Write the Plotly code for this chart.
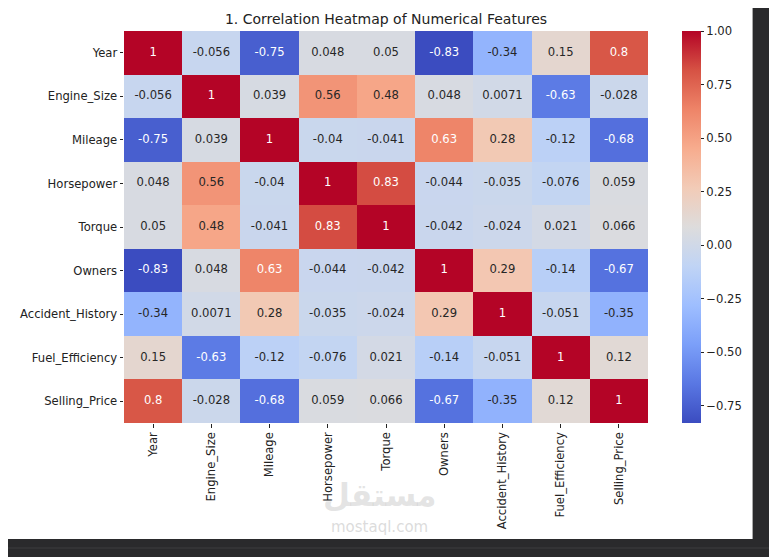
import plotly.graph_objects as go

# feature names (same order on both axes)
features = ["Year", "Engine_Size", "Mileage", "Horsepower", "Torque",
            "Owners", "Accident_History", "Fuel_Efficiency", "Selling_Price"]

# correlation matrix, one row per feature
corr_year = [1, -0.056, -0.75, 0.048, 0.05, -0.83, -0.34, 0.15, 0.8]
corr_engine = [-0.056, 1, 0.039, 0.56, 0.48, 0.048, 0.0071, -0.63, -0.028]
corr_mileage = [-0.75, 0.039, 1, -0.04, -0.041, 0.63, 0.28, -0.12, -0.68]
corr_hp = [0.048, 0.56, -0.04, 1, 0.83, -0.044, -0.035, -0.076, 0.059]
corr_torque = [0.05, 0.48, -0.041, 0.83, 1, -0.042, -0.024, 0.021, 0.066]
corr_owners = [-0.83, 0.048, 0.63, -0.044, -0.042, 1, 0.29, -0.14, -0.67]
corr_accident = [-0.34, 0.0071, 0.28, -0.035, -0.024, 0.29, 1, -0.051, -0.35]
corr_fuel = [0.15, -0.63, -0.12, -0.076, 0.021, -0.14, -0.051, 1, 0.12]
corr_price = [0.8, -0.028, -0.68, 0.059, 0.066, -0.67, -0.35, 0.12, 1]

cbar_ticks = [-0.75, -0.5, -0.25, 0.0, 0.25, 0.5, 0.75, 1.0]

z = [corr_year, corr_engine, corr_mileage, corr_hp, corr_torque,
     corr_owners, corr_accident, corr_fuel, corr_price]

# matplotlib "coolwarm"
coolwarm = [
    [0.0, "#3b4cc0"], [0.1, "#5977e3"], [0.2, "#7b9ff9"], [0.3, "#9ebeff"],
    [0.4, "#c0d4f5"], [0.5, "#dddcdc"], [0.6, "#f2cbb7"], [0.7, "#f7ac8e"],
    [0.8, "#ee8468"], [0.9, "#d65244"], [1.0, "#b40426"],
]

zmin = min(min(r) for r in z)
zmax = max(max(r) for r in z)

# annotation text (seaborn uses .2g), white on the strong cells
tx, ty, tt, tc = [], [], [], []
for i, row in enumerate(z):
    for j, v in enumerate(row):
        tx.append(features[j])
        ty.append(features[i])
        tt.append(format(v, ".2g"))
        tc.append("white" if abs(v) > 0.6 else "#262626")

# page has an 8px body margin; figure runs past the window on right/bottom
OFF = 8
W, H = 777, 557
L, T = 122 - OFF, 31 - OFF
R, B = W - (648 - OFF), H - (423 - OFF)
pw, ph = W - L - R, H - T - B


def px_x(x):
    # window pixel -> paper x
    return (x - OFF - L) / pw


def px_y(y):
    # window pixel -> paper y
    return (H - B - (y - OFF)) / ph


fs = 11.6

fig = go.Figure()
fig.add_trace(go.Heatmap(
    z=z, x=features, y=features,
    colorscale=coolwarm, zmin=zmin, zmax=zmax,
    hoverinfo="skip",
    colorbar=dict(
        x=px_x(682), xanchor="left", xpad=0, ypad=0,
        y=0.5, yanchor="middle", len=1, lenmode="fraction",
        thickness=19, outlinewidth=0,
        ticks="outside", ticklen=3.5, tickcolor="#222",
        tickvals=cbar_ticks,
        ticktext=[("\u2212" if t < 0 else "") + "%.2f" % abs(t) for t in cbar_ticks],
        tickfont=dict(size=fs, color="#222"),
    ),
))
fig.add_trace(go.Scatter(
    x=tx, y=ty, text=tt, mode="text",
    textfont=dict(size=fs, color=tc, family="DejaVu Sans"),
    hoverinfo="skip", showlegend=False,
))

fig.update_layout(
    width=W, height=H,
    margin=dict(l=L, r=R, t=T, b=B),
    paper_bgcolor="#2a2a2c",
    plot_bgcolor="white",
    font=dict(family="DejaVu Sans", size=fs, color="#222"),
    title=dict(text="1. Correlation Heatmap of Numerical Features",
               x=0.5, xref="paper", xanchor="center",
               y=1 - (19 - OFF) / H, yref="container", yanchor="middle",
               font=dict(size=14, color="#222")),
    showlegend=False,
    shapes=[
        dict(type="rect", xref="paper", yref="paper", layer="below",
             x0=px_x(0), x1=px_x(753), y0=px_y(539), y1=px_y(0),
             fillcolor="white", line=dict(width=0)),
        dict(type="line", xref="paper", yref="paper", layer="below",
             x0=px_x(0), x1=px_x(800), y0=px_y(548), y1=px_y(548),
             line=dict(color="#3c3c3e", width=1)),
    ],
    annotations=[
        dict(text="<b>مستقل</b>", xref="paper", yref="paper",
             x=px_x(378), y=px_y(515), showarrow=False,
             font=dict(size=31, color="rgba(190,190,190,0.42)")),
        dict(text="mostaql.com", xref="paper", yref="paper",
             x=px_x(378), y=px_y(538), showarrow=False,
             font=dict(size=15, color="rgba(190,190,190,0.55)")),
    ],
)
fig.update_xaxes(type="category", tickangle=-90, ticks="outside", ticklen=3.5,
                 tickcolor="#222", showgrid=False, zeroline=False,
                 tickfont=dict(size=fs))
fig.update_yaxes(type="category", autorange="reversed", ticks="outside",
                 ticklen=3.5, tickcolor="#222", showgrid=False,
                 zeroline=False, tickfont=dict(size=fs))

fig.write_html("out.html")
